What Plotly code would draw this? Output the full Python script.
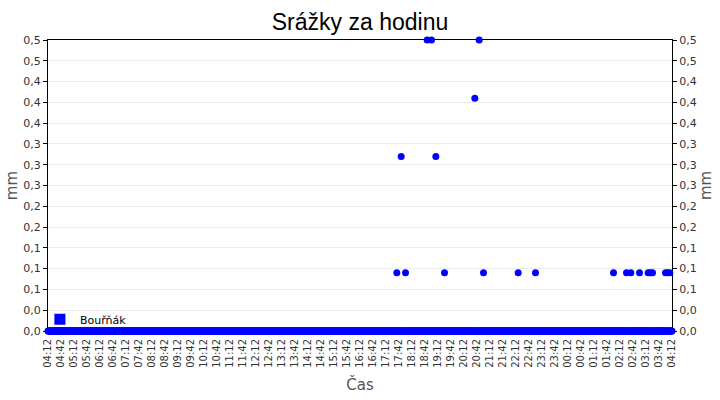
import numpy as np
import pandas as pd
import plotly.graph_objects as go

# mereni kazdou minutu, 04:12 az 04:12 dalsiho dne
den = "2024-07-15"
cas_od = pd.Timestamp(den + " 04:12")
cas_do = cas_od + pd.Timedelta(days=1)
casy = pd.date_range(cas_od, cas_do, freq="1min")

# nenulove hodnoty srazek (mm)
srazky_casy = ["17:37", "17:47", "17:57", "18:47", "18:57", "19:07", "19:27",
               "20:37", "20:47", "20:57", "22:17", "22:57",
               "01:57", "02:27", "02:37", "02:57", "03:17", "03:22", "03:27",
               "03:57", "04:02", "04:07"]
srazky_mm = [0.1016, 0.3048, 0.1016, 0.508, 0.508, 0.3048, 0.1016,
             0.4064, 0.508, 0.1016, 0.1016, 0.1016,
             0.1016, 0.1016, 0.1016, 0.1016, 0.1016, 0.1016, 0.1016,
             0.1016, 0.1016, 0.1016]

# popisky osy y (zaokrouhlene na 1 desetinne misto)
y_max = 0.508
y_popisky = ["0,0", "0,0", "0,1", "0,1", "0,1", "0,2", "0,2", "0,3",
             "0,3", "0,3", "0,4", "0,4", "0,4", "0,5", "0,5"]
y_hodnoty = np.linspace(0, y_max, len(y_popisky))

# priradit hodnoty k casove ose
hodnoty = pd.Series(0.0, index=casy)
for c, v in zip(srazky_casy, srazky_mm):
    t = pd.Timestamp(den + " " + c)
    if t < cas_od:
        t = t + pd.Timedelta(days=1)
    hodnoty[t] = v

modra = "#0000ff"
font_os = dict(family="DejaVu Sans", size=11, color="#333333")
font_titulek_osy = dict(family="DejaVu Sans", size=15, color="#555555")

fig = go.Figure()

fig.add_trace(go.Scatter(
    x=hodnoty.index,
    y=hodnoty.values,
    mode="markers",
    marker=dict(color=modra, size=7),
    name="Bouřňák",
    showlegend=False,
    cliponaxis=False,
))

# jen pro legendu (ctverec) a pravou osu
fig.add_trace(go.Scatter(
    x=[None], y=[None],
    mode="markers",
    marker=dict(color=modra, size=11, symbol="square"),
    name="Bouřňák",
    yaxis="y2",
))

fig.update_layout(
    width=720, height=400,
    margin=dict(l=48, r=48, t=40, b=69, autoexpand=False),
    paper_bgcolor="white",
    plot_bgcolor="white",
    title=dict(text="Srážky za hodinu", x=0.5, xanchor="center",
               yref="container", y=0.945, yanchor="middle",
               font=dict(family="Liberation Sans", size=23, color="black")),
    xaxis=dict(
        type="date",
        range=[cas_od, cas_do],
        tick0=cas_od, dtick=30 * 60 * 1000,
        tickformat="%H:%M", tickangle=-90,
        tickfont=dict(family="DejaVu Sans", size=10, color="#333333"),
        ticks="inside", ticklen=4, tickcolor="black",
        ticklabelstandoff=3,
        showline=True, linecolor="black", linewidth=1, mirror=True,
        showgrid=False, zeroline=False,
        layer="below traces", automargin=False,
        title=dict(text="Čas", standoff=12, font=font_titulek_osy),
    ),
    yaxis=dict(
        range=[0, y_max],
        tickvals=y_hodnoty, ticktext=y_popisky,
        tickfont=font_os,
        ticks="outside", ticklen=4, tickcolor="black",
        showline=True, linecolor="black", linewidth=1, mirror=True,
        showgrid=True, gridcolor="#ebebeb", zeroline=False,
        layer="below traces", automargin=False,
        title=dict(text="mm", standoff=2, font=font_titulek_osy),
    ),
    yaxis2=dict(
        overlaying="y", side="right",
        range=[0, y_max],
        tickvals=y_hodnoty, ticktext=y_popisky,
        tickfont=font_os,
        ticks="outside", ticklen=4, tickcolor="black",
        showgrid=False, zeroline=False, automargin=False,
        title=dict(text="mm", standoff=2, font=font_titulek_osy),
    ),
    legend=dict(
        x=-0.013, y=0.04, xanchor="left", yanchor="middle",
        bgcolor="rgba(0,0,0,0)",
        font=dict(family="DejaVu Sans", size=11, color="black"),
    ),
)

# bez okraje stranky, aby graf sedel na 720x400
fig.write_html("out.html", config={"displayModeBar": False},
               post_script="document.body.style.margin='0';")
